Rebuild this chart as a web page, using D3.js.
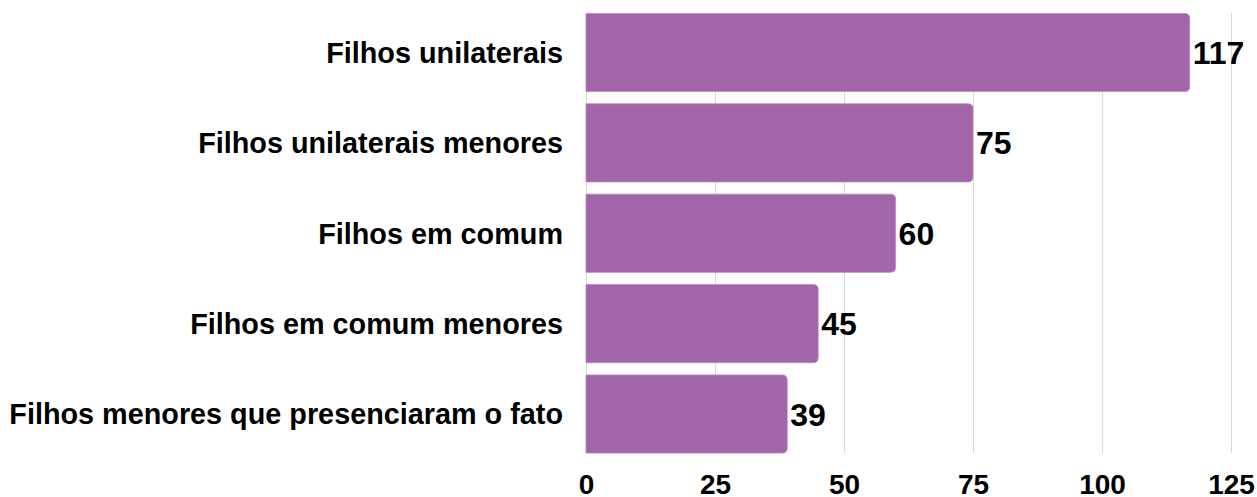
<!DOCTYPE html>
<html>
<head>
<meta charset="utf-8">
<script src="https://cdn.jsdelivr.net/npm/d3@7"></script>
<style>
  body { margin: 0; background: #fff; }
  text { font-family: "Liberation Sans", Arial, sans-serif; font-weight: bold; fill: #000; }
</style>
</head>
<body>
<svg id="chart"></svg>
<script>
const categories = [
    "Filhos unilaterais",
    "Filhos unilaterais menores",
    "Filhos em comum",
    "Filhos em comum menores",
    "Filhos menores que presenciaram o fato"
];
const values = [117, 75, 60, 45, 39];
const xTicks = [0, 25, 50, 75, 100, 125];

const width = 1257;
const height = 497;
const barColor = "#a365a9";

const svg = d3.select("#chart")
    .attr("width", width)
    .attr("height", height);

const x = d3.scaleLinear()
    .domain([0, 125])
    .range([586, 1231]);

const y = d3.scaleBand()
    .domain(categories)
    .range([7.5, 459])
    .paddingInner(0.135)
    .paddingOuter(0.065);

const gridTop = 13, gridBottom = 453;

// grid lines
svg.append("g")
    .selectAll("line")
    .data(xTicks)
    .enter().append("line")
    .attr("x1", d => x(d) + 0.5)
    .attr("x2", d => x(d) + 0.5)
    .attr("y1", gridTop)
    .attr("y2", gridBottom)
    .attr("stroke", "#d9d9d9")
    .attr("stroke-width", 1);

// bars, rounded only on the right side
function barPath(x0, x1, y0, h, r) {
    r = Math.min(r, (x1 - x0) / 2);
    return `M${x0},${y0}H${x1 - r}Q${x1},${y0} ${x1},${y0 + r}` +
           `V${y0 + h - r}Q${x1},${y0 + h} ${x1 - r},${y0 + h}H${x0}Z`;
}

svg.append("g")
    .selectAll("path")
    .data(values)
    .enter().append("path")
    .attr("d", (d, i) => barPath(x(0), x(d), y(categories[i]), y.bandwidth(), 5))
    .attr("fill", barColor)
    .attr("stroke", "#b98cbd")
    .attr("stroke-width", 0.8);

// value labels
svg.append("g")
    .selectAll("text")
    .data(values)
    .enter().append("text")
    .attr("x", d => x(d) + 3)
    .attr("y", (d, i) => y(categories[i]) + y.bandwidth() / 2)
    .attr("dy", "0.36em")
    .attr("font-size", "32px")
    .text(d => d);

// category labels
svg.append("g")
    .selectAll("text")
    .data(categories)
    .enter().append("text")
    .attr("x", 563)
    .attr("y", d => y(d) + y.bandwidth() / 2)
    .attr("dy", "0.36em")
    .attr("text-anchor", "end")
    .attr("font-size", "28.8px")
    .text(d => d);

// x axis
const xAxis = d3.axisBottom(x)
    .tickValues(xTicks)
    .tickSize(0)
    .tickPadding(0);

const ax = svg.append("g")
    .attr("transform", `translate(0,${gridBottom})`)
    .call(xAxis);
ax.select(".domain").remove();
ax.selectAll("text")
    .attr("y", 31)
    .attr("dy", "0.36em")
    .attr("font-size", "28px")
    .attr("font-family", null)
    .attr("fill", "#000");
</script>
</body>
</html>
